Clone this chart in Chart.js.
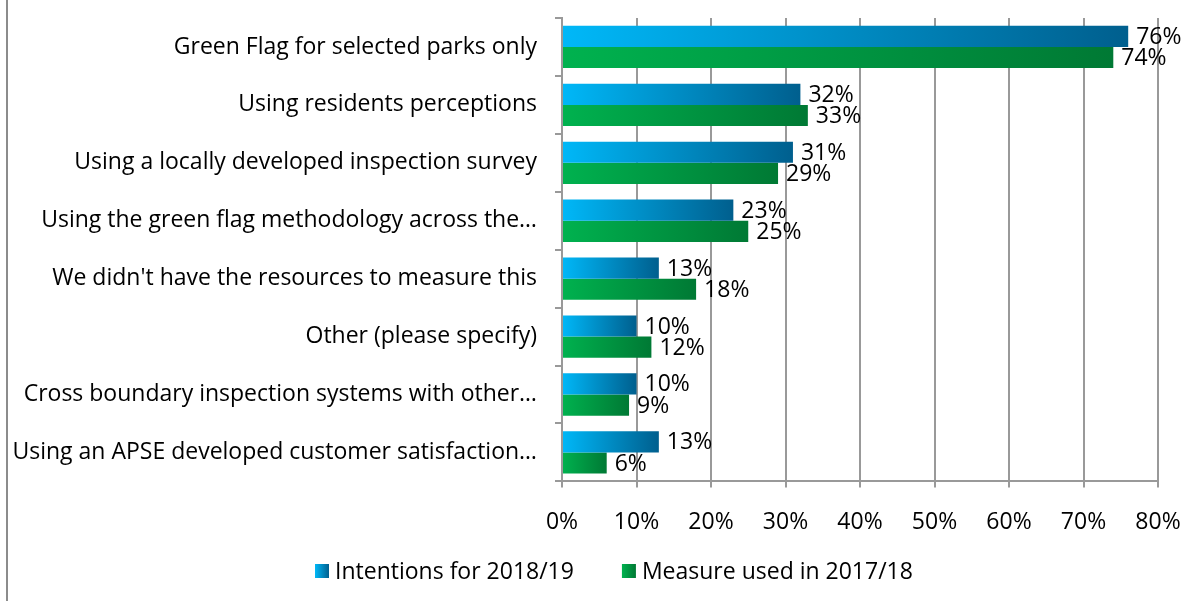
<!DOCTYPE html>
<html>
<head>
<meta charset="utf-8">
<script src="https://cdn.jsdelivr.net/npm/chart.js@4.4.1/dist/chart.umd.min.js"></script>
<style>
  html, body { margin: 0; padding: 0; background: #fff; }
  #wrap { width: 1198px; height: 601px; position: relative; }
</style>
</head>
<body>
<div id="wrap"><canvas id="chart"></canvas></div>
<script>
'use strict';

var chart;

var categories = [
    'Green Flag for selected parks only',
    'Using residents perceptions',
    'Using a locally developed inspection survey',
    'Using the green flag methodology across the\u2026',
    'We didn\'t have the resources to measure this',
    'Other (please specify)',
    'Cross boundary inspection systems with other\u2026',
    'Using an APSE developed customer satisfaction\u2026'
];
var seriesNames = ['Intentions for 2018/19', 'Measure used in 2017/18'];
var intentions = [76, 32, 31, 23, 13, 10, 10, 13];
var measuresUsed = [74, 33, 29, 25, 18, 12, 9, 6];
var xMin = 0;
var xMax = 80;
var xStep = 10;

var FONT = '"Open Sans", "Noto Sans", sans-serif';
var FONT_SIZE = 23;
var GRID = '#999999';
var blueStops = ['#00b8f8', '#005f8e'];
var greenStops = ['#00b24f', '#007934'];
var seriesStops = [blueStops, greenStops];

// horizontal gradient between two x pixels
function hGradient(ctx, x0, x1, stops) {
    var g = ctx.createLinearGradient(x0, 0, x1, 0);
    g.addColorStop(0, stops[0]);
    g.addColorStop(1, stops[1]);
    return g;
}

// gradient that runs along each bar, from the axis to the bar end
function barGradient(stops) {
    return function(ctx) {
        var c = ctx.chart;
        if (!c.chartArea || ctx.type !== 'data') return stops[0];
        var xs = c.scales.x;
        var x0 = xs.getPixelForValue(0);
        var x1 = xs.getPixelForValue(ctx.raw);
        if (x1 - x0 < 1) x1 = x0 + 1;
        return hGradient(c.ctx, x0, x1, stops);
    };
}

// value text just past the end of each bar
var valueLabels = {
    id: 'valueLabels',
    afterDatasetsDraw: function(c) {
        var ctx = c.ctx;
        ctx.save();
        ctx.font = FONT_SIZE + 'px ' + FONT;
        ctx.fillStyle = '#000';
        ctx.textBaseline = 'middle';
        ctx.textAlign = 'left';
        c.data.datasets.forEach(function(ds, i) {
            c.getDatasetMeta(i).data.forEach(function(bar, j) {
                ctx.fillText(ds.data[j] + '%', bar.x + 8, bar.y + 1);
            });
        });
        ctx.restore();
    }
};

// legend row under the axis: gradient square + series name
var bottomLegend = {
    id: 'bottomLegend',
    afterDraw: function(c) {
        var ctx = c.ctx;
        var box = 14, gap = 6, itemGap = 48;
        var y = 571;
        ctx.save();
        ctx.font = FONT_SIZE + 'px ' + FONT;
        ctx.textBaseline = 'middle';
        ctx.textAlign = 'left';
        var names = c.data.datasets.map(function(ds) { return ds.label; });
        var widths = names.map(function(n) { return ctx.measureText(n).width; });
        var total = 0;
        widths.forEach(function(w, i) { total += box + gap + w + (i ? itemGap : 0); });
        var x = Math.round(c.width / 2 + 15 - total / 2);
        names.forEach(function(n, i) {
            ctx.fillStyle = hGradient(ctx, x, x + box, seriesStops[i]);
            ctx.fillRect(x, y - box / 2, box, box);
            ctx.fillStyle = '#000';
            ctx.fillText(n, x + box + gap, y + 1);
            x += box + gap + widths[i] + itemGap;
        });
        ctx.restore();
    }
};

// left edge of the surrounding frame
var frameEdge = {
    id: 'frameEdge',
    beforeDraw: function(c) {
        var ctx = c.ctx;
        ctx.save();
        ctx.strokeStyle = '#8c8c8c';
        ctx.lineWidth = 2;
        ctx.beginPath();
        ctx.moveTo(7, 0);
        ctx.lineTo(7, c.height);
        ctx.stroke();
        ctx.restore();
    }
};

chart = new Chart(document.getElementById('chart'), {
    type: 'bar',
    data: {
        labels: categories,
        datasets: [
            {
                label: seriesNames[0],
                data: intentions,
                backgroundColor: barGradient(blueStops)
            },
            {
                label: seriesNames[1],
                data: measuresUsed,
                backgroundColor: barGradient(greenStops)
            }
        ]
    },
    options: {
        indexAxis: 'y',
        responsive: true,
        maintainAspectRatio: false,
        animation: false,
        categoryPercentage: 0.73,
        barPercentage: 1.0,
        layout: {
            padding: { top: 18, right: 40, left: 0, bottom: 44 }
        },
        scales: {
            x: {
                min: xMin,
                max: xMax,
                ticks: {
                    stepSize: xStep,
                    color: '#000',
                    font: { family: FONT, size: FONT_SIZE },
                    padding: 21,
                    maxRotation: 0,
                    autoSkip: false,
                    callback: function(v) { return v + '%'; }
                },
                grid: { color: GRID, lineWidth: 2, tickLength: 6 },
                border: { color: GRID, width: 2 },
                afterFit: function(scale) {
                    scale.paddingLeft = 0;
                    scale.paddingRight = 0;
                }
            },
            y: {
                ticks: {
                    color: '#000',
                    font: { family: FONT, size: FONT_SIZE },
                    padding: 18
                },
                grid: { drawOnChartArea: false, color: GRID, lineWidth: 2, tickLength: 7 },
                border: { color: GRID, width: 2 },
                afterFit: function(scale) {
                    scale.width = 562;
                    scale.paddingTop = 0;
                    scale.paddingBottom = 0;
                }
            }
        },
        plugins: {
            legend: { display: false },
            tooltip: { enabled: false }
        }
    },
    plugins: [valueLabels, bottomLegend, frameEdge]
});
</script>
</body>
</html>
